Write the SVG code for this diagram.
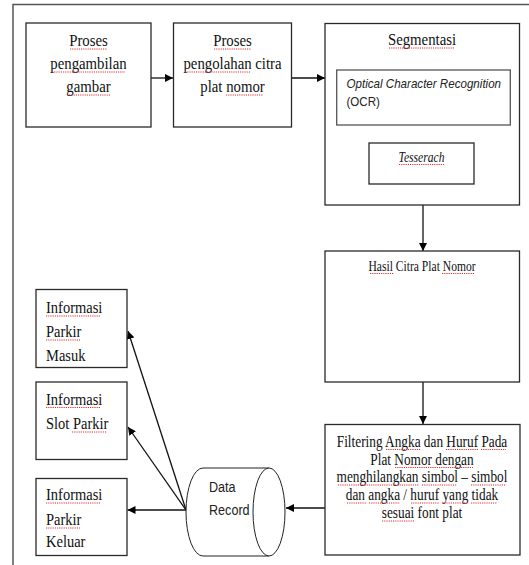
<svg xmlns="http://www.w3.org/2000/svg" width="529" height="565" viewBox="0 0 529 565">
  <style>
    .box { fill: #fff; stroke: #2a2a2a; stroke-width: 1.3; }
    .frame { fill: none; stroke: #555; stroke-width: 1.5; }
    .t { font-family: "Liberation Serif", serif; fill: #111; }
    .big { font-size: 14.8px; }
    .info { font-size: 14.5px; }
    .mid { font-size: 13.3px; }
    .small { font-size: 11.6px; }
    .sans { font-family: "Liberation Sans", Arial, sans-serif; fill: #222; }
    .c { text-anchor: middle; }
    .sq { stroke: #e03030; stroke-width: 1; stroke-dasharray: 1.2 1; fill: none; }
    .link { stroke: #111; stroke-width: 1.3; fill: none; marker-end: url(#arrow); }
  </style>
  <defs>
    <marker id="arrow" viewBox="0 0 10 10" refX="10" refY="5" markerWidth="8" markerHeight="8" markerUnits="userSpaceOnUse" orient="auto">
      <path d="M0,0 L10,5 L0,10 z" fill="#000"/>
    </marker>
  </defs>

  <rect width="529" height="565" fill="#fff"/>
  <!-- page frame -->
  <path class="frame" d="M13,565 L13,4.5 L529,4.5"/>

  <!-- connectors -->
  <g id="connectors">
    <line class="link" x1="151" y1="78" x2="173" y2="78"/>
    <line class="link" x1="291.5" y1="78" x2="325" y2="78"/>
    <line class="link" x1="423" y1="205" x2="423" y2="251"/>
    <line class="link" x1="423" y1="382" x2="423" y2="424"/>
    <line class="link" x1="325" y1="508" x2="286" y2="508"/>
    <line class="link" x1="186" y1="510" x2="127.5" y2="510"/>
    <line class="link" x1="186" y1="510" x2="128" y2="427"/>
    <line class="link" x1="186" y1="510" x2="128" y2="331"/>
  </g>

  <!-- labels are set slightly tall: each text is placed at its baseline and stretched vertically -->
  <g id="proses-pengambilan">
    <rect class="box" x="26" y="23" width="125" height="104"/>
    <text class="t big c" transform="translate(88.5 46) scale(1 1.18)">Proses</text>
    <text class="t big c" transform="translate(88.5 69) scale(1 1.18)">pengambilan</text>
    <text class="t big c" transform="translate(88.5 92) scale(1 1.18)">gambar</text>
    <path class="sq" d="M70,49 H107 M52,72 H125 M67,95 H110"/>
  </g>

  <g id="proses-pengolahan">
    <rect class="box" x="173.5" y="23" width="118" height="104"/>
    <text class="t big c" transform="translate(232.5 46) scale(1 1.18)">Proses</text>
    <text class="t big c" transform="translate(232.5 69) scale(1 1.18)">pengolahan citra</text>
    <text class="t big c" transform="translate(232.5 92) scale(1 1.18)">plat nomor</text>
    <path class="sq" d="M214,49 H251 M185,72 H251 M226,95 H263"/>
  </g>

  <g id="segmentasi">
    <rect class="box" x="325" y="23.5" width="194.5" height="181.5"/>
    <text class="t big c" transform="translate(422 45) scale(1 1.18)">Segmentasi</text>
    <path class="sq" d="M389,48 H455"/>
    <g id="ocr">
      <rect class="box" x="336.7" y="70" width="173.6" height="55" style="stroke:#555"/>
      <text class="sans" font-size="11.6" font-style="italic" transform="translate(346.5 88) scale(1 1.18)">Optical Character Recognition</text>
      <text class="sans" font-size="11.6" transform="translate(346.5 106) scale(1 1.18)">(OCR)</text>
    </g>
    <g id="tesserach">
      <rect class="box" x="369" y="143" width="105" height="41"/>
      <text class="t c" font-size="11.6" font-style="italic" transform="translate(421.5 161.5) scale(1 1.18)">Tesserach</text>
      <path class="sq" d="M399,164.5 H444"/>
    </g>
  </g>

  <g id="hasil-citra">
    <rect class="box" x="325" y="251" width="194.5" height="131"/>
    <text class="t small c" transform="translate(422 270.5) scale(1 1.18)">Hasil Citra Plat Nomor</text>
    <path class="sq" d="M370,273.5 H394 M442,273.5 H474"/>
  </g>

  <g id="filtering">
    <rect class="box" x="325" y="424.5" width="195" height="130.5"/>
    <text class="t mid c" transform="translate(422 446.5) scale(1 1.18)">Filtering Angka dan Huruf Pada</text>
    <text class="t mid c" transform="translate(422 464.5) scale(1 1.18)">Plat Nomor dengan</text>
    <text class="t mid c" transform="translate(422 482) scale(1 1.18)">menghilangkan simbol – simbol</text>
    <text class="t mid c" transform="translate(422 500) scale(1 1.18)">dan angka / huruf yang tidak</text>
    <text class="t mid c" transform="translate(422 518) scale(1 1.18)">sesuai font plat</text>
    <path class="sq" d="M386,449.5 H421 M446,449.5 H478 M481,449.5 H506 M395,467.5 H473 M338,485 H419 M422,485 H457 M471,485 H506 M347,503 H366 M369,503 H400 M411,503 H439 M442,503 H468 M471,503 H497 M382,521 H414"/>
  </g>

  <g id="data-record">
    <path d="M269,468 L203,468 A17,44 0 0 0 203,556 L269,556" fill="#fff" stroke="#222" stroke-width="1"/>
    <ellipse cx="269" cy="512" rx="16" ry="44" fill="#fff" stroke="#222" stroke-width="1"/>
    <text class="sans" font-size="12.6" transform="translate(209 491.5) scale(1 1.18)">Data</text>
    <text class="sans" font-size="12.6" transform="translate(209 515) scale(1 1.18)">Record</text>
  </g>

  <g id="info-masuk">
    <rect class="box" x="36" y="289.5" width="91" height="78"/>
    <text class="t info" transform="translate(46 313) scale(1 1.18)">Informasi</text>
    <text class="t info" transform="translate(46 337) scale(1 1.18)">Parkir</text>
    <text class="t info" transform="translate(46 361) scale(1 1.18)">Masuk</text>
    <path class="sq" d="M46,316 H101 M46,340 H80"/>
  </g>

  <g id="info-slot">
    <rect class="box" x="36" y="382" width="91" height="77.5"/>
    <text class="t info" transform="translate(46 404.5) scale(1 1.18)">Informasi</text>
    <text class="t info" transform="translate(46 429) scale(1 1.18)">Slot Parkir</text>
    <path class="sq" d="M46,407.5 H101 M72,432 H107"/>
  </g>

  <g id="info-keluar">
    <rect class="box" x="36" y="478.5" width="91" height="77"/>
    <text class="t info" transform="translate(46 500) scale(1 1.18)">Informasi</text>
    <text class="t info" transform="translate(46 525) scale(1 1.18)">Parkir</text>
    <text class="t info" transform="translate(46 547) scale(1 1.18)">Keluar</text>
    <path class="sq" d="M46,503 H101 M46,528 H80"/>
  </g>
</svg>
